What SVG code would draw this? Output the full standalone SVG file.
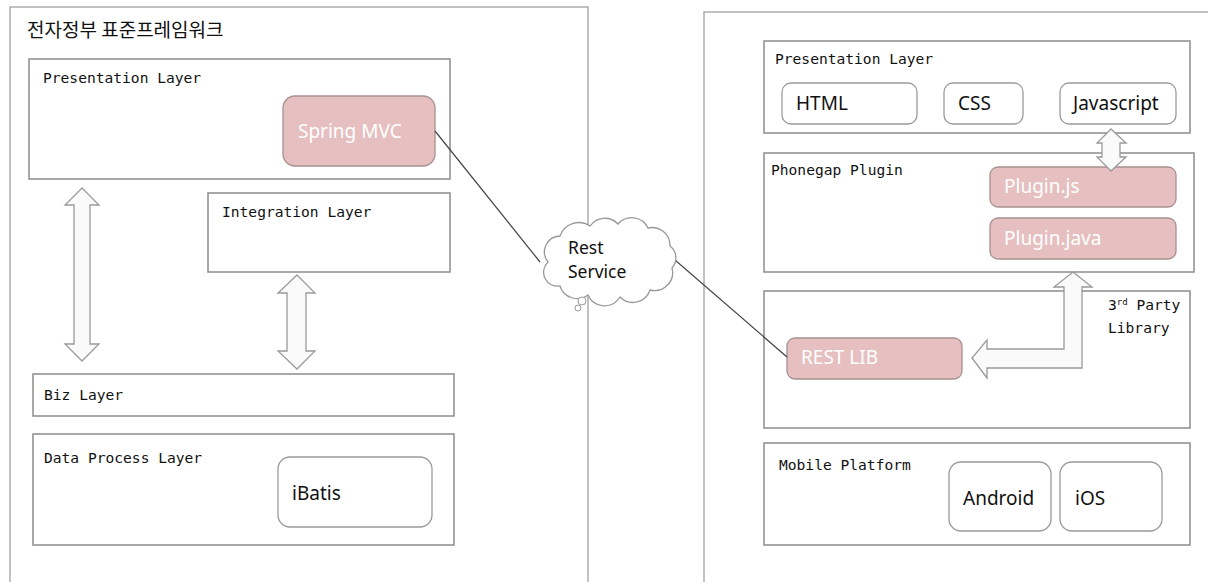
<svg xmlns="http://www.w3.org/2000/svg" width="1208" height="582" viewBox="0 0 1208 582">
<style>
.frame{fill:#fff;stroke:#a0a0a0;stroke-width:1.3}
.box{fill:#fff;stroke:#8c8c8c;stroke-width:1.5}
.rbox{fill:#fff;stroke:#9a9a9a;stroke-width:1.3}
.pink{fill:#e6c0c0;stroke:#a89090;stroke-width:1.3}
.arrow{fill:#fafafa;stroke:#9a9a9a;stroke-width:1.3}
.lbl{font-family:"DejaVu Sans Mono","Liberation Mono",monospace;font-size:14.6px;fill:#111}
.big{font-family:"Noto Sans","Open Sans",sans-serif;font-size:19px;fill:#111}
.wht{font-family:"Noto Sans","Open Sans",sans-serif;font-size:19px;fill:#fff}
.cloudtxt{font-family:"Noto Sans","Open Sans",sans-serif;font-size:17.5px;fill:#111}
.title{font-family:"Noto Sans CJK KR",sans-serif;font-size:19px;fill:#111}
.conn{stroke:#444;stroke-width:1.2;fill:none}
</style>
<rect width="1208" height="582" fill="#fff"/>
<g id="left-frame">
<rect class="frame" x="10" y="7" width="578" height="590"/>
<text class="title" x="27" y="37">전자정부 표준프레임워크</text>
</g>
<g id="right-frame">
<rect class="frame" x="704" y="12" width="520" height="590"/>
</g>
<g id="presentation-left">
<rect class="box" x="29" y="59" width="421" height="120"/>
<text class="lbl" x="43" y="83">Presentation Layer</text>
</g>
<g id="spring-mvc">
<rect class="pink" x="283" y="96" width="152" height="70" rx="12"/>
<text class="wht" x="298" y="138">Spring MVC</text>
</g>
<g id="integration-layer">
<rect class="box" x="208" y="193" width="242" height="79"/>
<text class="lbl" x="222" y="217">Integration Layer</text>
</g>
<g id="arrow-left">
<polygon class="arrow" points="82,188 99,205 90,205 90,344 99,344 82,361 65,344 74,344 74,205 65,205"/>
</g>
<g id="arrow-mid">
<polygon class="arrow" points="297,275 315,293 306,293 306,351 315,351 297,369 278,351 287,351 287,293 278,293"/>
</g>
<g id="biz-layer">
<rect class="box" x="33" y="374" width="421" height="42"/>
<text class="lbl" x="44" y="400">Biz Layer</text>
</g>
<g id="data-process-layer">
<rect class="box" x="33" y="434" width="421" height="111"/>
<text class="lbl" x="44" y="463">Data Process Layer</text>
</g>
<g id="ibatis">
<rect class="rbox" x="278" y="457" width="154" height="70" rx="12"/>
<text class="big" x="292" y="500">iBatis</text>
</g>
<g id="presentation-right">
<rect class="box" x="764" y="41" width="426" height="92"/>
<text class="lbl" x="775" y="64">Presentation Layer</text>
</g>
<g id="html">
<rect class="rbox" x="782" y="83" width="135" height="41" rx="9"/>
<text class="big" x="796" y="110">HTML</text>
</g>
<g id="css">
<rect class="rbox" x="944" y="83" width="79" height="41" rx="9"/>
<text class="big" x="958" y="110">CSS</text>
</g>
<g id="javascript">
<rect class="rbox" x="1060" y="83" width="116" height="41" rx="9"/>
<text class="big" x="1073" y="110">Javascript</text>
</g>
<g id="phonegap-plugin">
<rect class="box" x="764" y="153" width="430" height="119"/>
<text class="lbl" x="771" y="175">Phonegap Plugin</text>
</g>
<g id="plugin-js">
<rect class="pink" x="990" y="167" width="186" height="40" rx="8"/>
<text class="wht" x="1004" y="193">Plugin.js</text>
</g>
<g id="plugin-java">
<rect class="pink" x="990" y="218" width="186" height="41" rx="8"/>
<text class="wht" x="1004" y="245">Plugin.java</text>
</g>
<g id="arrow-js">
<polygon class="arrow" points="1111,129 1126,143 1120,143 1120,157 1126,157 1111,171 1097,157 1102,157 1102,143 1097,143"/>
</g>
<g id="third-party">
<rect class="box" x="764" y="291" width="426" height="137"/>
<text class="lbl" x="1108" y="310">3<tspan font-size="9" dy="-5">rd</tspan><tspan dy="5"> Party</tspan></text>
<text class="lbl" x="1108" y="333">Library</text>
</g>
<g id="rest-lib">
<rect class="pink" x="787" y="338" width="175" height="41" rx="8"/>
<text class="wht" x="801" y="364">REST LIB</text>
</g>
<g id="arrow-bent">
<polygon class="arrow" points="1073,272 1092,287 1082,287 1082,368 987,368 987,378 972,358 987,340 987,349 1064,349 1064,287 1054,287"/>
</g>
<g id="mobile-platform">
<rect class="box" x="764" y="443" width="426" height="102"/>
<text class="lbl" x="779" y="470">Mobile Platform</text>
</g>
<g id="android">
<rect class="rbox" x="949" y="462" width="102" height="69" rx="12"/>
<text class="big" x="963" y="505">Android</text>
</g>
<g id="ios">
<rect class="rbox" x="1060" y="462" width="102" height="69" rx="12"/>
<text class="big" x="1075" y="505">iOS</text>
</g>
<g id="connectors">
<line class="conn" x1="435" y1="131" x2="540" y2="262"/>
<line class="conn" x1="675" y1="260" x2="787" y2="357"/>
</g>
<g id="rest-service">
<path d="M548,262 A16,16 0 0 1 560,236 A20,20 0 0 1 590,226 A18,18 0 0 1 618,224 A18,18 0 0 1 648,228 A18,18 0 0 1 670,246 A15,15 0 0 1 672,268 A18,18 0 0 1 650,290 A18,18 0 0 1 620,297 A18,18 0 0 1 588,295 A18,18 0 0 1 560,286 A14,14 0 0 1 548,262 Z" fill="#fff" stroke="#999" stroke-width="1.3"/>
<circle cx="582" cy="301" r="4" fill="#fff" stroke="#999" stroke-width="1"/>
<circle cx="578" cy="308" r="3" fill="#fff" stroke="#999" stroke-width="1"/>
<text class="cloudtxt" x="568" y="254">Rest</text>
<text class="cloudtxt" x="568" y="278">Service</text>
</g>
</svg>
